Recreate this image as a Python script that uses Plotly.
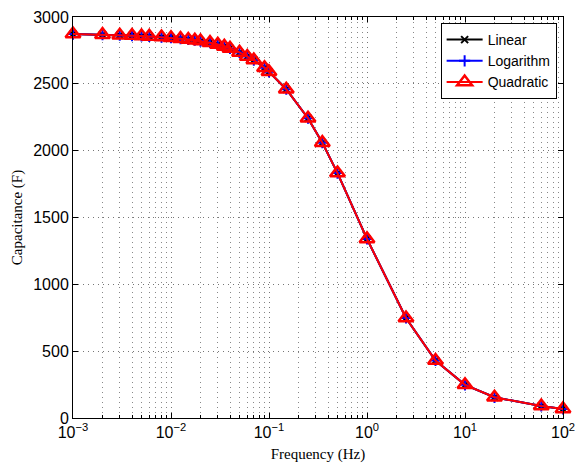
import plotly.graph_objects as go

freq = [0.001, 0.002, 0.003, 0.004, 0.005, 0.006, 0.008, 0.01, 0.0125, 0.015,
        0.0175, 0.02, 0.025, 0.03, 0.035, 0.04, 0.05, 0.06, 0.07, 0.09, 0.1,
        0.15, 0.25, 0.35, 0.5, 1, 2.5, 5, 10, 20, 60, 100]
linear = [2872, 2868, 2864, 2861, 2858, 2855, 2850, 2845, 2838, 2832,
          2826, 2820, 2808, 2795, 2780, 2765, 2735, 2705, 2678, 2620, 2590,
          2460, 2243, 2060, 1832, 1340, 748, 430, 248, 155, 90, 68]
logarithm = [2872, 2868, 2864, 2861, 2858, 2855, 2850, 2845, 2838, 2832,
             2826, 2820, 2808, 2795, 2780, 2765, 2735, 2705, 2678, 2620, 2590,
             2460, 2243, 2060, 1832, 1340, 748, 430, 248, 155, 90, 68]
quadratic = [2872, 2868, 2864, 2861, 2858, 2855, 2850, 2845, 2838, 2832,
             2826, 2820, 2808, 2795, 2780, 2765, 2735, 2705, 2678, 2620, 2590,
             2460, 2243, 2060, 1832, 1340, 748, 430, 248, 155, 90, 68]

x_ticks = [1e-3, 1e-2, 1e-1, 1, 10, 100]
x_ticktext = ["10<sup>−3</sup>", "10<sup>−2</sup>", "10<sup>−1</sup>",
              "10<sup>0</sup>", "10<sup>1</sup>", "10<sup>2</sup>"]
y_ticks = [0, 500, 1000, 1500, 2000, 2500, 3000]

minor_x = [m * 10 ** e for e in range(-3, 2) for m in range(2, 10)]

fig = go.Figure()
fig.add_trace(go.Scatter(x=freq, y=linear, name="Linear", mode="lines+markers",
                         cliponaxis=False,
                         line=dict(color="black", width=2),
                         marker=dict(symbol="x-thin-open", size=7,
                                     line=dict(color="black", width=2))))
fig.add_trace(go.Scatter(x=freq, y=logarithm, name="Logarithm", mode="lines+markers",
                         cliponaxis=False,
                         line=dict(color="blue", width=2),
                         marker=dict(symbol="cross-thin-open", size=8,
                                     line=dict(color="blue", width=2))))
fig.add_trace(go.Scatter(x=freq, y=quadratic, name="Quadratic", mode="lines+markers",
                         cliponaxis=False,
                         line=dict(color="red", width=2),
                         marker=dict(symbol="triangle-up-open", size=13,
                                     line=dict(color="red", width=2.5))))

tick_font = dict(family="Liberation Sans, Arial", size=16, color="black")
title_font = dict(family="Liberation Serif, DejaVu Serif", size=15, color="black")
grid_dash = "1px,4px"

fig.update_layout(
    width=575, height=463, autosize=False,
    margin=dict(l=73, r=12, t=17, b=45, autoexpand=False),
    paper_bgcolor="white", plot_bgcolor="white",
    showlegend=True,
    legend=dict(x=0.987, y=0.985, xanchor="right", yanchor="top",
                bgcolor="white", bordercolor="black", borderwidth=1,
                font=dict(family="Liberation Sans, Arial", size=14, color="black"),
                tracegroupgap=0, itemwidth=36),
    xaxis=dict(type="log", range=[-3, 2], tickvals=x_ticks, ticktext=x_ticktext,
               tickfont=tick_font, ticks="inside", ticklen=5, tickcolor="black",
               ticklabeloverflow="allow",
               showline=True, linecolor="black", linewidth=1, mirror="allticks",
               showgrid=True, gridcolor="#777777", griddash=grid_dash, gridwidth=1,
               zeroline=False, automargin=False,
               title=dict(text="Frequency (Hz)", font=title_font, standoff=8),
               minor=dict(tickvals=minor_x, ticks="inside", ticklen=3,
                          tickcolor="black", showgrid=True, gridcolor="#888888",
                          griddash=grid_dash, gridwidth=1)),
    yaxis=dict(range=[0, 3000], tickvals=y_ticks, tickfont=tick_font,
               ticks="inside", ticklen=5, tickcolor="black",
               showline=True, linecolor="black", linewidth=1, mirror="allticks",
               showgrid=True, gridcolor="#777777", griddash=grid_dash, gridwidth=1,
               zeroline=False, automargin=False,
               title=dict(text="Capacitance (F)", font=title_font, standoff=6)),
)

fig.write_html("out.html", config={"displayModeBar": False},
               post_script="document.body.style.margin='0';document.body.style.overflow='hidden';")
